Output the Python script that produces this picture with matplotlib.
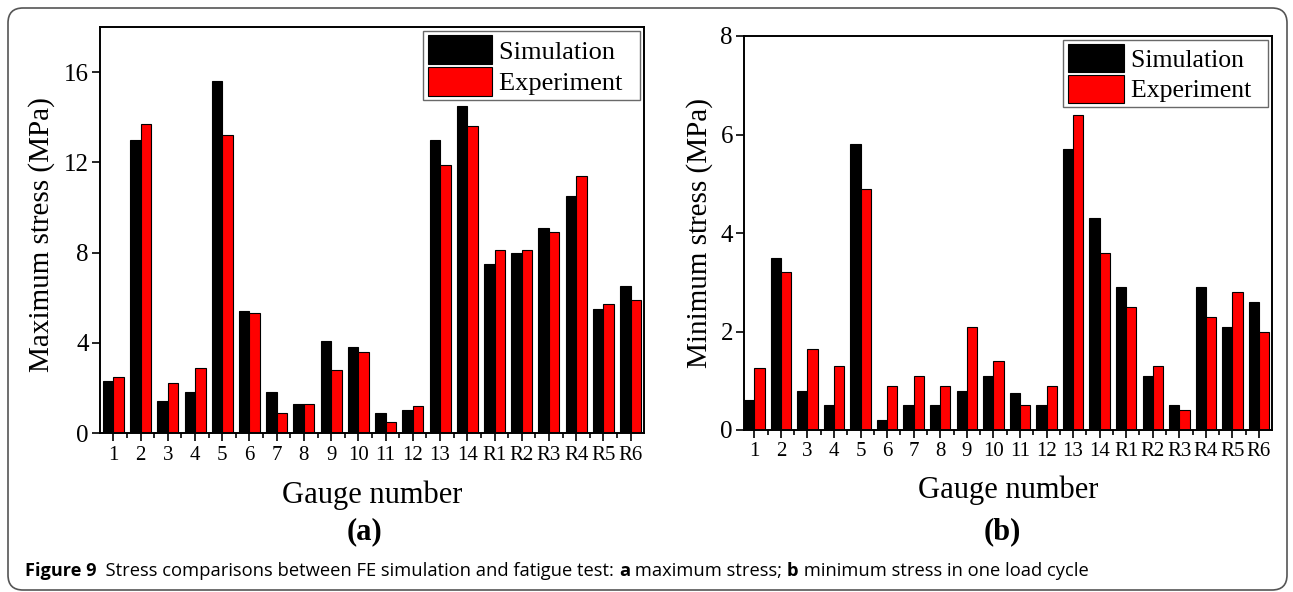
import matplotlib
matplotlib.use("Agg")
import matplotlib.pyplot as plt
import numpy as np
from matplotlib.patches import FancyBboxPatch

gauges = ["1", "2", "3", "4", "5", "6", "7", "8", "9", "10", "11", "12", "13", "14",
          "R1", "R2", "R3", "R4", "R5", "R6"]
max_sim = [2.3, 13.0, 1.4, 1.8, 15.6, 5.4, 1.8, 1.3, 4.1, 3.8, 0.9, 1.0, 13.0, 14.5,
           7.5, 8.0, 9.1, 10.5, 5.5, 6.5]
max_exp = [2.5, 13.7, 2.2, 2.9, 13.2, 5.3, 0.9, 1.3, 2.8, 3.6, 0.5, 1.2, 11.9, 13.6,
           8.1, 8.1, 8.9, 11.4, 5.7, 5.9]
min_sim = [0.6, 3.5, 0.8, 0.5, 5.8, 0.2, 0.5, 0.5, 0.8, 1.1, 0.75, 0.5, 5.7, 4.3,
           2.9, 1.1, 0.5, 2.9, 2.1, 2.6]
min_exp = [1.25, 3.2, 1.65, 1.3, 4.9, 0.9, 1.1, 0.9, 2.1, 1.4, 0.5, 0.9, 6.4, 3.6,
           2.5, 1.3, 0.4, 2.3, 2.8, 2.0]

W, H = 1293, 592
fig = plt.figure(figsize=(W / 100, H / 100), dpi=100)
SERIF = ["Liberation Serif", "DejaVu Serif"]


def px_axes(x0, y0, x1, y1):
    return fig.add_axes([x0 / W, 1 - y1 / H, (x1 - x0) / W, (y1 - y0) / H])


def draw(ax, sim, exp, ymax, yticks, lmargin, rmargin, legfs, hl, hh):
    x = np.arange(1, len(gauges) + 1)
    bw = 0.385
    ax.bar(x - bw / 2, sim, bw, color="black", edgecolor="black", linewidth=0.8,
           label="Simulation  ")
    ax.bar(x + bw / 2, exp, bw, color="#ff0000", edgecolor="black", linewidth=0.8,
           label="Experiment  ")
    ax.set_xlim(1 - lmargin, len(gauges) + rmargin)
    ax.set_ylim(0, ymax)
    ax.set_yticks(yticks)
    ax.set_yticklabels([str(v) for v in yticks], fontfamily=SERIF, fontsize=18)
    ax.set_xticks(x)
    ax.set_xticklabels(gauges, fontfamily=SERIF, fontsize=15)
    ax.set_xticks(np.arange(1.5, len(gauges)), minor=True)
    ax.tick_params(axis="x", which="major", direction="out", length=6, width=1.2, pad=3)
    ax.tick_params(axis="x", which="minor", direction="out", length=3.5, width=1.2)
    ax.tick_params(axis="y", which="major", direction="out", length=6, width=1.2, pad=2)
    for s in ax.spines.values():
        s.set_linewidth(1.4)
    leg = ax.legend(prop={"family": SERIF, "size": legfs}, loc="upper right",
                    frameon=True, fancybox=False, edgecolor="#444444",
                    handlelength=hl, handleheight=hh, labelspacing=0.1,
                    handletextpad=0.25, borderpad=0.17, borderaxespad=0.15)
    leg.get_frame().set_linewidth(1.0)


ax1 = px_axes(100, 27, 644, 433)
draw(ax1, max_sim, max_exp, 18, [0, 4, 8, 12, 16], 0.49, 0.49, 19, 2.45, 1.31)
ax2 = px_axes(744, 36, 1272, 430)
draw(ax2, min_sim, min_exp, 8, [0, 2, 4, 6, 8], 0.39, 0.49, 18.5, 2.2, 1.3)

# axis titles
fig.text(42 / W, 1 - 235 / H, "Maximum stress (MPa)", rotation=90, ha="center",
         va="center", fontfamily=SERIF, fontsize=21)
fig.text(700 / W, 1 - 233 / H, "Minimum stress (MPa)", rotation=90, ha="center",
         va="center", fontfamily=SERIF, fontsize=21)
fig.text(372 / W, 1 - 495 / H, "Gauge number", ha="center", va="center",
         fontfamily=SERIF, fontsize=22)
fig.text(1008 / W, 1 - 490 / H, "Gauge number", ha="center", va="center",
         fontfamily=SERIF, fontsize=22)
fig.text(365 / W, 1 - 532 / H, "(a)", ha="center", va="center",
         fontfamily=SERIF, fontsize=22, fontweight="bold")
fig.text(1002 / W, 1 - 532 / H, "(b)", ha="center", va="center",
         fontfamily=SERIF, fontsize=22, fontweight="bold")

# outer rounded frame
frame = FancyBboxPatch((8 / W, 2 / H), (1287 - 8) / W, (584 - 2) / H,
                       boxstyle="round,pad=0,rounding_size=%f" % (15 / W),
                       transform=fig.transFigure, facecolor="none",
                       edgecolor="#555555", linewidth=1.2, mutation_aspect=W / H)
fig.patches.append(frame)

# caption with mixed weights
runs = [("Figure 9", "bold", 13.1), ("  Stress comparisons between FE simulation and fatigue test: ", "normal", 13.2),
        ("a", "bold", 13.2), (" maximum stress; ", "normal", 13.2), ("b", "bold", 13.2),
        (" minimum stress in one load cycle", "normal", 13.2)]
fig.canvas.draw()
renderer = fig.canvas.get_renderer()
xpos = 25
for txt, wt, fs in runs:
    t = fig.text(xpos / W, 1 - 576 / H, txt, ha="left", va="baseline",
                 fontfamily=["Open Sans", "DejaVu Sans"], fontsize=fs, fontweight=wt)
    bb = t.get_window_extent(renderer)
    xpos += bb.width

fig.savefig("out.png", dpi=100)
